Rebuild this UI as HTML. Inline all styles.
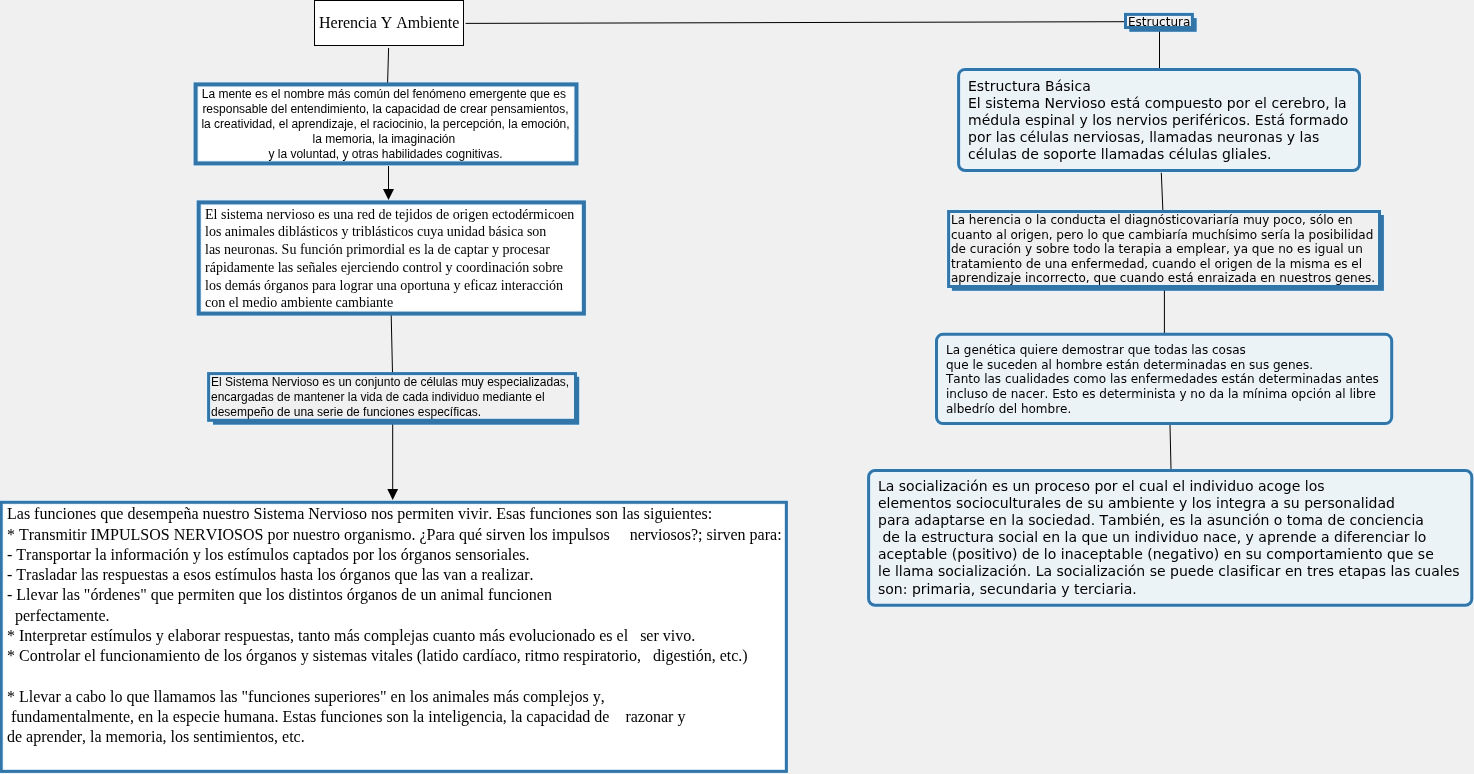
<!DOCTYPE html>
<html lang="es">
<head>
<meta charset="utf-8">
<title>Herencia Y Ambiente</title>
<style>
html,body{margin:0;padding:0;}
body{width:1474px;height:774px;overflow:hidden;background:#f0f0f0;position:relative;color:#000;}
.t,.lines{position:absolute;}
.t{white-space:pre;margin:0;}
.l{position:absolute;left:0;width:100%;font-kerning:none;will-change:transform;}
.lines{left:0;top:0;}
</style>
</head>
<body>
<svg class="lines" width="1474" height="774" viewBox="0 0 1474 774">
<g>
<rect x="195.60" y="84.40" width="380.90" height="79.00" fill="none" stroke="#e6f4ff" stroke-width="6"/>
<rect x="198.70" y="202.40" width="385.20" height="111.20" fill="none" stroke="#e6f4ff" stroke-width="6"/>
<rect x="212.00" y="375.80" width="368.20" height="49.90" fill="#e6f4ff"/>
<rect x="208.60" y="373.60" width="366.90" height="46.70" fill="none" stroke="#e6f4ff" stroke-width="5"/>
<rect x="1.20" y="502.30" width="785.20" height="269.10" fill="none" stroke="#e6f4ff" stroke-width="5"/>
<rect x="1128.30" y="17.10" width="69.40" height="15.70" fill="#e6f4ff"/>
<rect x="1125.50" y="14.40" width="66.90" height="13.10" fill="none" stroke="#e6f4ff" stroke-width="5"/>
<rect x="958.60" y="69.40" width="400.90" height="101.10" rx="6.5" ry="6.5" fill="none" stroke="#e6f4ff" stroke-width="5"/>
<rect x="950.90" y="214.00" width="434.00" height="77.80" fill="#e6f4ff"/>
<rect x="948.60" y="211.50" width="430.90" height="75.00" fill="none" stroke="#e6f4ff" stroke-width="5"/>
<rect x="936.50" y="334.30" width="455.20" height="89.30" rx="6.5" ry="6.5" fill="none" stroke="#e6f4ff" stroke-width="5"/>
<rect x="868.60" y="470.50" width="603.20" height="134.80" rx="6.5" ry="6.5" fill="none" stroke="#e6f4ff" stroke-width="5"/>
</g>
<g stroke="#000" stroke-width="1" fill="none">
<line x1="388.6" y1="48" x2="387.6" y2="83"/>
<line x1="388.5" y1="166" x2="388.5" y2="190"/>
<line x1="391.2" y1="315" x2="392.5" y2="373"/>
<line x1="392.7" y1="424" x2="392.7" y2="490"/>
<line x1="465.6" y1="23.4" x2="1125" y2="21.7"/>
<line x1="1159.5" y1="31" x2="1159.5" y2="68"/>
<line x1="1161.3" y1="172.7" x2="1162.9" y2="211"/>
<line x1="1164.4" y1="290" x2="1164.4" y2="333"/>
<line x1="1170" y1="425" x2="1171" y2="469"/>
</g>
<g>
<rect x="314.50" y="0.50" width="149.00" height="45.00" fill="#fff" stroke="#000" stroke-width="1"/>
<rect x="195.60" y="84.40" width="380.90" height="79.00" fill="#fff"/>
<rect x="197.60" y="86.40" width="376.90" height="75.00" fill="none" stroke="#e6f4ff" stroke-width="2"/>
<rect x="195.60" y="84.40" width="380.90" height="79.00" fill="none" stroke="#3275a8" stroke-width="4"/>
<rect x="198.70" y="202.40" width="385.20" height="111.20" fill="#fff"/>
<rect x="200.70" y="204.40" width="381.20" height="107.20" fill="none" stroke="#e6f4ff" stroke-width="2"/>
<rect x="198.70" y="202.40" width="385.20" height="111.20" fill="none" stroke="#3275a8" stroke-width="4"/>
<rect x="213.00" y="376.80" width="366.20" height="47.90" fill="#3275a8"/>
<rect x="208.60" y="373.60" width="366.90" height="46.70" fill="#f0f0f0"/>
<rect x="210.10" y="375.10" width="363.90" height="43.70" fill="none" stroke="#e6f4ff" stroke-width="2"/>
<rect x="208.60" y="373.60" width="366.90" height="46.70" fill="none" stroke="#3275a8" stroke-width="3"/>
<rect x="1.20" y="502.30" width="785.20" height="269.10" fill="#fff"/>
<rect x="2.70" y="503.80" width="782.20" height="266.10" fill="none" stroke="#e6f4ff" stroke-width="2"/>
<rect x="1.20" y="502.30" width="785.20" height="269.10" fill="none" stroke="#3275a8" stroke-width="3"/>
<rect x="1129.30" y="18.10" width="67.40" height="13.70" fill="#3275a8"/>
<rect x="1125.50" y="14.40" width="66.90" height="13.10" fill="#f0f0f0"/>
<rect x="1127.00" y="15.90" width="63.90" height="10.10" fill="none" stroke="#e6f4ff" stroke-width="2"/>
<rect x="1125.50" y="14.40" width="66.90" height="13.10" fill="none" stroke="#3275a8" stroke-width="3"/>
<rect x="958.60" y="69.40" width="400.90" height="101.10" rx="6.5" ry="6.5" fill="#ecf3f6"/>
<rect x="960.10" y="70.90" width="397.90" height="98.10" rx="5.0" ry="5.0" fill="none" stroke="#e6f4ff" stroke-width="2"/>
<rect x="958.60" y="69.40" width="400.90" height="101.10" rx="6.5" ry="6.5" fill="none" stroke="#3275a8" stroke-width="3"/>
<rect x="951.90" y="215.00" width="432.00" height="75.80" fill="#3275a8"/>
<rect x="948.60" y="211.50" width="430.90" height="75.00" fill="#f0f0f0"/>
<rect x="950.10" y="213.00" width="427.90" height="72.00" fill="none" stroke="#e6f4ff" stroke-width="2"/>
<rect x="948.60" y="211.50" width="430.90" height="75.00" fill="none" stroke="#3275a8" stroke-width="3"/>
<rect x="936.50" y="334.30" width="455.20" height="89.30" rx="6.5" ry="6.5" fill="#ecf3f6"/>
<rect x="938.00" y="335.80" width="452.20" height="86.30" rx="5.0" ry="5.0" fill="none" stroke="#e6f4ff" stroke-width="2"/>
<rect x="936.50" y="334.30" width="455.20" height="89.30" rx="6.5" ry="6.5" fill="none" stroke="#3275a8" stroke-width="3"/>
<rect x="868.60" y="470.50" width="603.20" height="134.80" rx="6.5" ry="6.5" fill="#ecf3f6"/>
<rect x="870.10" y="472.00" width="600.20" height="131.80" rx="5.0" ry="5.0" fill="none" stroke="#e6f4ff" stroke-width="2"/>
<rect x="868.60" y="470.50" width="603.20" height="134.80" rx="6.5" ry="6.5" fill="none" stroke="#3275a8" stroke-width="3"/>
</g>
<g fill="#000" stroke="none">
<polygon points="383,189 394,189 388.5,200"/>
<polygon points="387.3,489 398.1,489 392.7,500"/>
</g>
</svg>
<div class="t " style="left:318.8px;top:0;font:16px/17px 'Liberation Serif', serif;"><div class="l" style="top:14px">Herencia Y Ambiente</div></div>
<div class="t " style="left:197.2px;top:0;font:12px/14px 'Liberation Sans', sans-serif;width:377px;text-align:center;"><div class="l" style="top:87px">La mente es el nombre más común del fenómeno emergente que es </div><div class="l" style="top:102px">responsable del entendimiento, la capacidad de crear pensamientos,</div><div class="l" style="top:117px">la creatividad, el aprendizaje, el raciocinio, la percepción, la emoción,</div><div class="l" style="top:132px">la memoria, la imaginación </div><div class="l" style="top:147px">y la voluntad, y otras habilidades cognitivas.</div></div>
<div class="t " style="left:205.0px;top:0;font:14px/15px 'Liberation Serif', serif;"><div class="l" style="top:207px">El sistema nervioso es una red de tejidos de origen ectodérmicoen</div><div class="l" style="top:224px">los animales diblásticos y triblásticos cuya unidad básica son</div><div class="l" style="top:242px">las neuronas. Su función primordial es la de captar y procesar</div><div class="l" style="top:260px">rápidamente las señales ejerciendo control y coordinación sobre</div><div class="l" style="top:278px">los demás órganos para lograr una oportuna y eficaz interacción</div><div class="l" style="top:295px">con el medio ambiente cambiante</div></div>
<div class="t " style="left:210.7px;top:0;font:12px/14px 'Liberation Sans', sans-serif;"><div class="l" style="top:375px">El Sistema Nervioso es un conjunto de células muy especializadas,</div><div class="l" style="top:390px">encargadas de mantener la vida de cada individuo mediante el</div><div class="l" style="top:405px">desempeño de una serie de funciones específicas.</div></div>
<div class="t " style="left:6.8px;top:0;font:16px/17px 'Liberation Serif', serif;"><div class="l" style="top:505px">Las funciones que desempeña nuestro Sistema Nervioso nos permiten vivir. Esas funciones son las siguientes:</div><div class="l" style="top:526px">* Transmitir IMPULSOS NERVIOSOS por nuestro organismo. ¿Para qué sirven los impulsos     nerviosos?; sirven para:</div><div class="l" style="top:546px">- Transportar la información y los estímulos captados por los órganos sensoriales.</div><div class="l" style="top:566px">- Trasladar las respuestas a esos estímulos hasta los órganos que las van a realizar.</div><div class="l" style="top:586px">- Llevar las "órdenes" que permiten que los distintos órganos de un animal funcionen</div><div class="l" style="top:607px">  perfectamente.</div><div class="l" style="top:627px">* Interpretar estímulos y elaborar respuestas, tanto más complejas cuanto más evolucionado es el   ser vivo.</div><div class="l" style="top:647px">* Controlar el funcionamiento de los órganos y sistemas vitales (latido cardíaco, ritmo respiratorio,   digestión, etc.)</div><div class="l" style="top:688px">* Llevar a cabo lo que llamamos las "funciones superiores" en los animales más complejos y,</div><div class="l" style="top:708px"> fundamentalmente, en la especie humana. Estas funciones son la inteligencia, la capacidad de    razonar y</div><div class="l" style="top:728px">de aprender, la memoria, los sentimientos, etc.</div></div>
<div class="t " style="left:1127.6px;top:0;font:12px/14px 'DejaVu Sans', 'Liberation Sans', sans-serif;"><div class="l" style="top:15px">Estructura</div></div>
<div class="t " style="left:967.7px;top:0;font:14px/16px 'DejaVu Sans', 'Liberation Sans', sans-serif;"><div class="l" style="top:78px">Estructura Básica</div><div class="l" style="top:95px">El sistema Nervioso está compuesto por el cerebro, la</div><div class="l" style="top:112px">médula espinal y los nervios periféricos. Está formado</div><div class="l" style="top:129px">por las células nerviosas, llamadas neuronas y las</div><div class="l" style="top:146px">células de soporte llamadas células gliales.</div></div>
<div class="t " style="left:950.5px;top:0;font:12px/14px 'DejaVu Sans', 'Liberation Sans', sans-serif;"><div class="l" style="top:213px">La herencia o la conducta el diagnósticovariaría muy poco, sólo en</div><div class="l" style="top:228px">cuanto al origen, pero lo que cambiaría muchísimo sería la posibilidad</div><div class="l" style="top:242px">de curación y sobre todo la terapia a emplear, ya que no es igual un</div><div class="l" style="top:257px">tratamiento de una enfermedad, cuando el origen de la misma es el</div><div class="l" style="top:271px">aprendizaje incorrecto, que cuando está enraizada en nuestros genes.</div></div>
<div class="t " style="left:945.6px;top:0;font:12px/14px 'DejaVu Sans', 'Liberation Sans', sans-serif;"><div class="l" style="top:343px">La genética quiere demostrar que todas las cosas</div><div class="l" style="top:358px">que le suceden al hombre están determinadas en sus genes.</div><div class="l" style="top:372px">Tanto las cualidades como las enfermedades están determinadas antes</div><div class="l" style="top:387px">incluso de nacer. Esto es determinista y no da la mínima opción al libre</div><div class="l" style="top:402px">albedrío del hombre.</div></div>
<div class="t " style="left:877.7px;top:0;font:14px/16px 'DejaVu Sans', 'Liberation Sans', sans-serif;"><div class="l" style="top:478px">La socialización es un proceso por el cual el individuo acoge los</div><div class="l" style="top:495px">elementos socioculturales de su ambiente y los integra a su personalidad</div><div class="l" style="top:512px">para adaptarse en la sociedad. También, es la asunción o toma de conciencia</div><div class="l" style="top:529px"> de la estructura social en la que un individuo nace, y aprende a diferenciar lo</div><div class="l" style="top:546px">aceptable (positivo) de lo inaceptable (negativo) en su comportamiento que se</div><div class="l" style="top:563px">le llama socialización. La socialización se puede clasificar en tres etapas las cuales</div><div class="l" style="top:581px">son: primaria, secundaria y terciaria.</div></div>
</body>
</html>
